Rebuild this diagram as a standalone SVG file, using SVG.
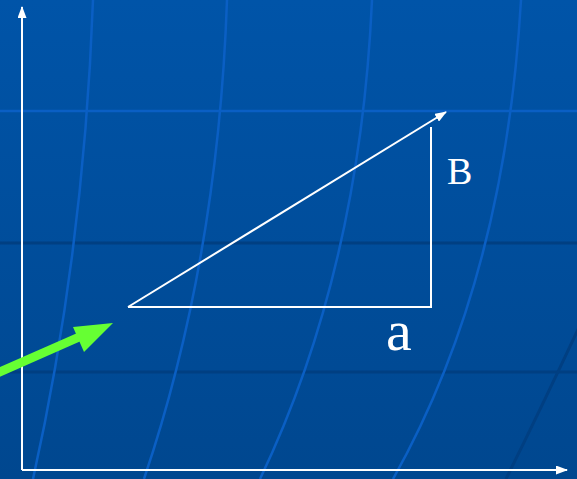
<svg xmlns="http://www.w3.org/2000/svg" width="577" height="479" viewBox="0 0 577 479">
<defs>
<linearGradient id="bg" x1="0" y1="0" x2="0" y2="1">
<stop offset="0" stop-color="#0054A8"/>
<stop offset="1" stop-color="#00478F"/>
</linearGradient>
<marker id="wb" viewBox="0 0 12 9" refX="11" refY="4.5" markerWidth="12" markerHeight="9" orient="auto" markerUnits="userSpaceOnUse">
<path d="M0,0 L12,4.5 L0,9 Z" fill="#ffffff"/>
</marker>
<style>
.bl{fill:none;stroke:#0A5FC4;stroke-width:2.5}
.dk{fill:none;stroke:#003F82;stroke-width:3}
.ln{fill:none;stroke:#ffffff;stroke-width:2}
.lb{fill:#ffffff;font-family:"Liberation Serif",serif}
</style>
</defs>
<g id="background">
<rect width="577" height="479" fill="url(#bg)"/>
<line x1="0" y1="111" x2="577" y2="111" class="bl"/>
<line x1="0" y1="243" x2="577" y2="243" class="dk"/>
<line x1="0" y1="372" x2="577" y2="372" class="dk"/>
<path class="bl" d="M93,0 Q84,250 33,479"/>
<path class="bl" d="M227,0 Q218,260 144,479"/>
<path class="bl" d="M372,0 Q360,270 260,479"/>
<path class="bl" d="M521,0 Q505,280 393,479"/>
<path class="dk" d="M580,325 Q545,400 506,479"/>
</g>
<g id="connectors">
<line id="y-axis" x1="22" y1="470" x2="22" y2="7" class="ln" marker-end="url(#wb)"/>
<line id="x-axis" x1="22" y1="470" x2="567" y2="470" class="ln" marker-end="url(#wb)"/>
<line id="side-a" x1="128" y1="307" x2="432" y2="307" class="ln"/>
<line id="side-b" x1="431" y1="308" x2="431" y2="127" class="ln"/>
<line id="hypotenuse" x1="128" y1="307" x2="446" y2="112" class="ln" marker-end="url(#wb)"/>
<g id="green-arrow">
<line x1="-5" y1="374" x2="86" y2="334" stroke="#66FF33" stroke-width="9"/>
<path d="M113,323 L73,327 L84,352 Z" fill="#66FF33"/>
</g>
</g>
<g id="label-b"><text x="447" y="184" class="lb" font-size="38">B</text></g>
<g id="label-a"><text x="386" y="350" class="lb" font-size="58">a</text></g>
</svg>
